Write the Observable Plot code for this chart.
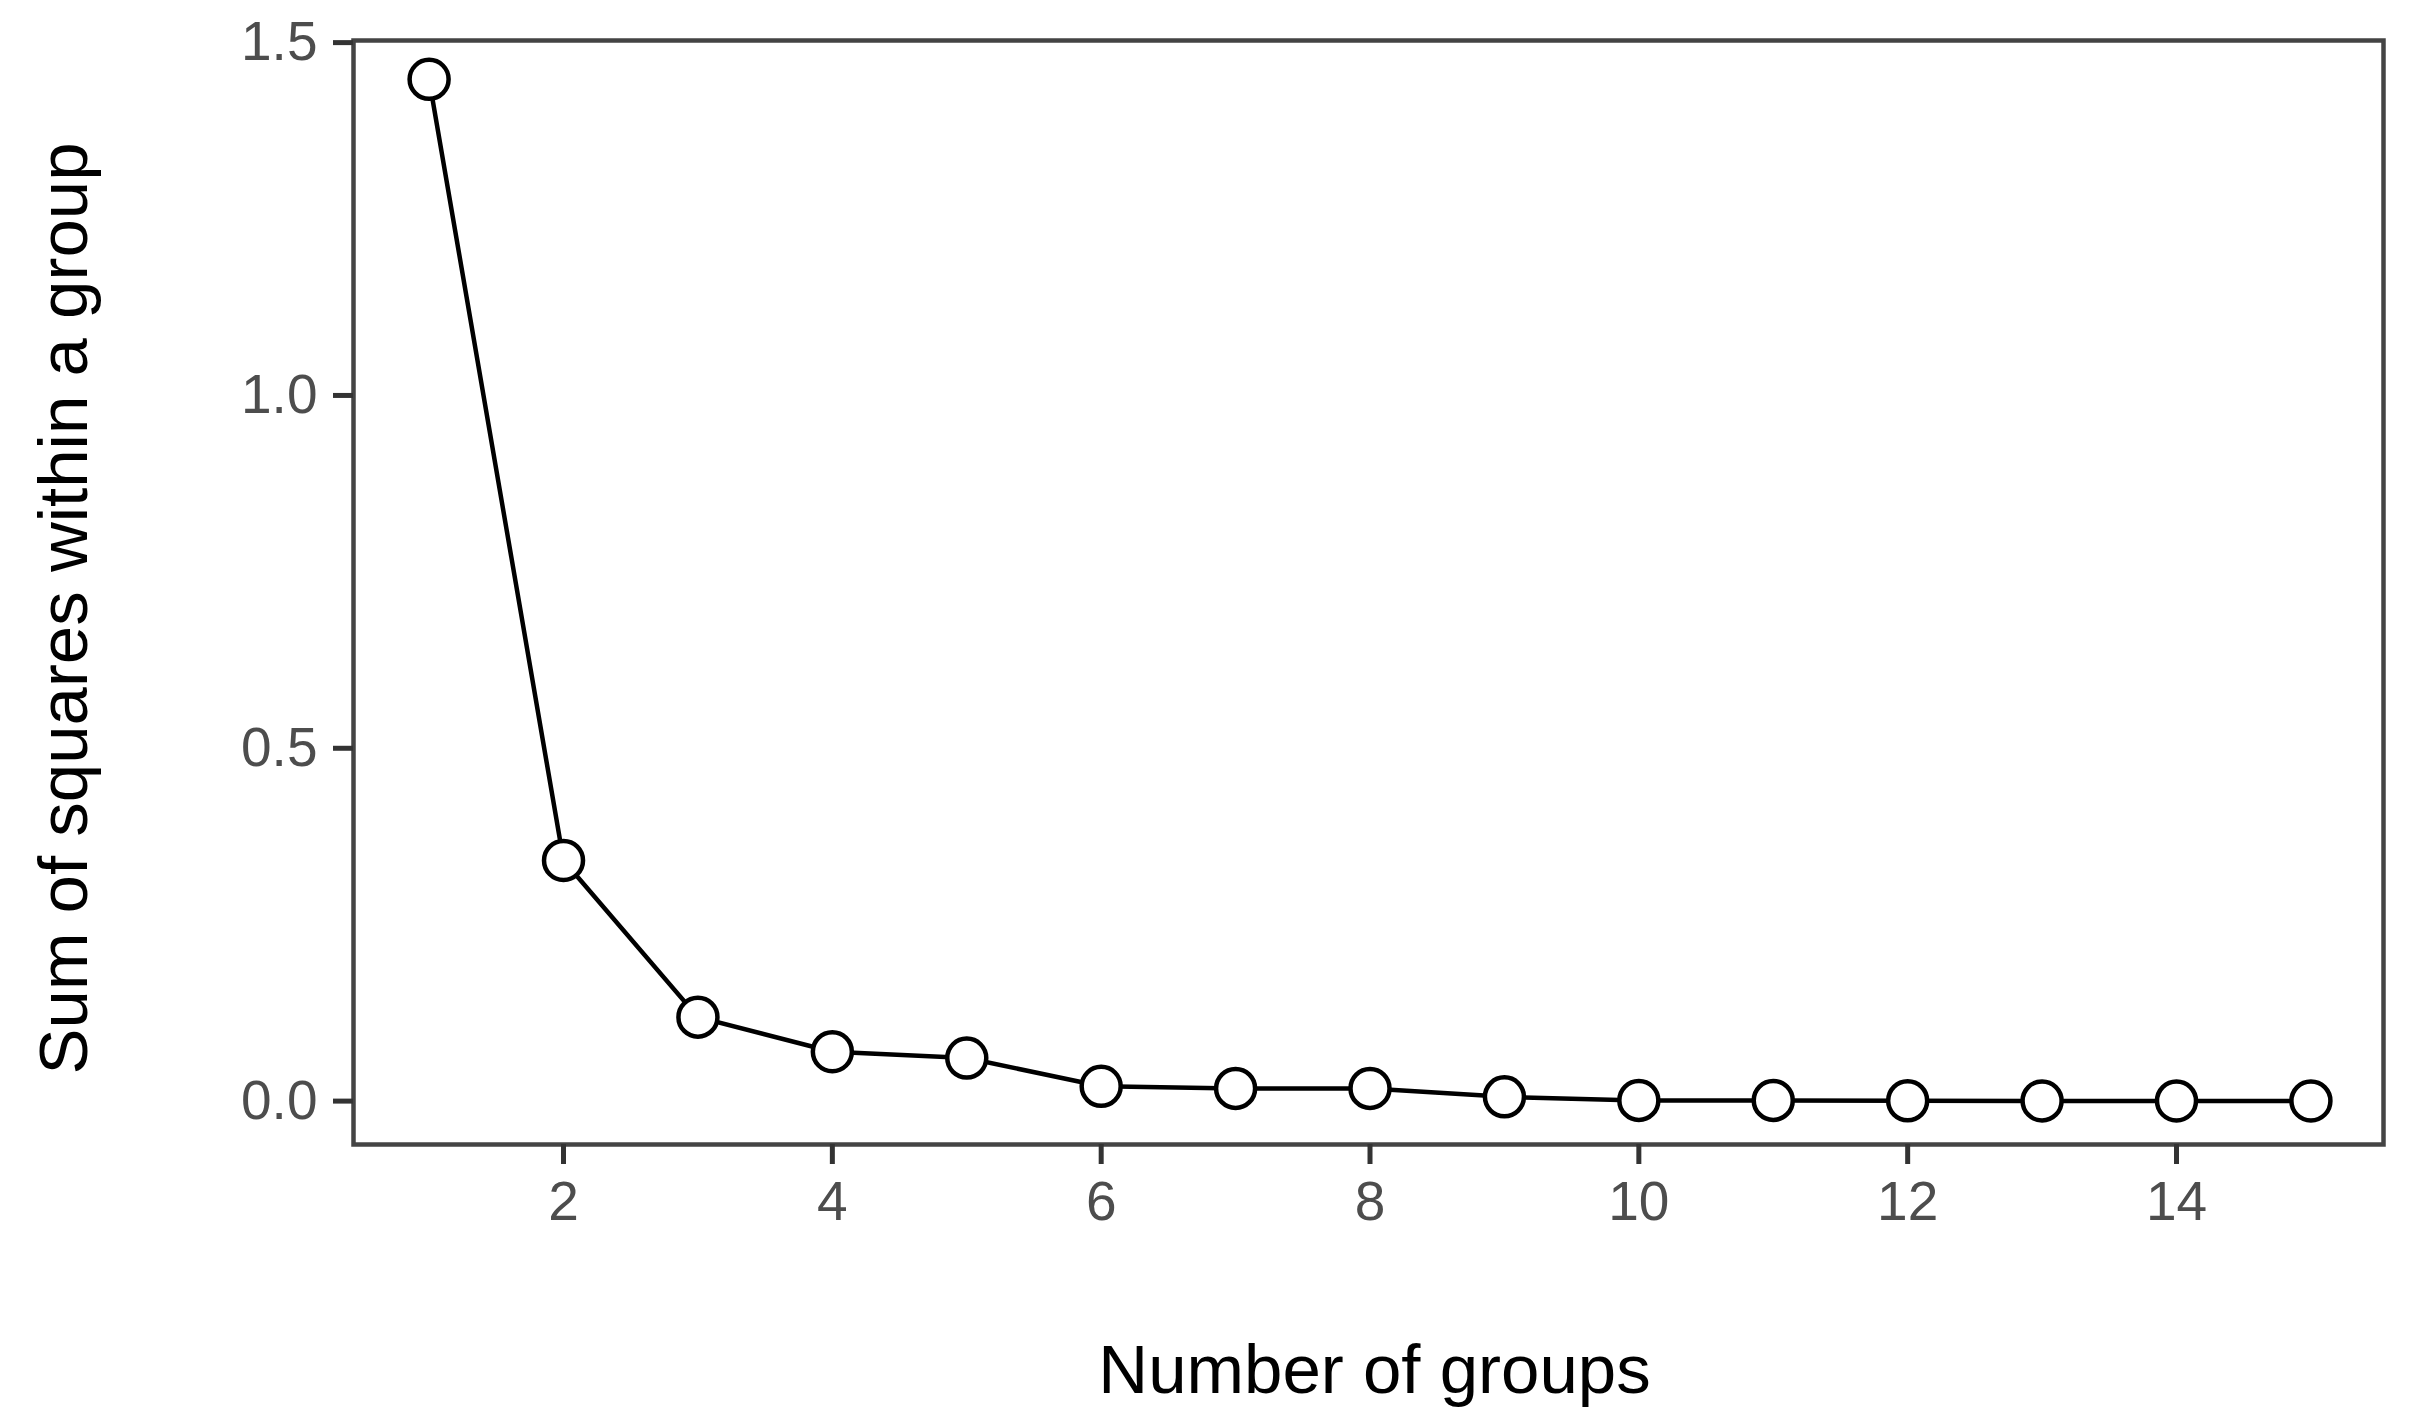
<!DOCTYPE html>
<html>
<head>
<meta charset="utf-8">
<script src="https://cdn.jsdelivr.net/npm/d3@7"></script>
<script src="https://cdn.jsdelivr.net/npm/@observablehq/plot@0.6"></script>
<style>
  html, body { margin: 0; padding: 0; background: #ffffff; }
  #chart svg { display: block; }
</style>
</head>
<body>
<div id="chart"></div>
<script>
const groups = [1, 2, 3, 4, 5, 6, 7, 8, 9, 10, 11, 12, 13, 14, 15];
const sumSquares = [1.448, 0.341, 0.119, 0.070, 0.061, 0.021, 0.018, 0.018, 0.006, 0.001, 0.001, 0.0005, 0.0003, 0.0002, 0.0002];
const xTicks = [2, 4, 6, 8, 10, 12, 14];
const yTicks = [0, 0.5, 1.0, 1.5];
const xTitle = "Number of groups";
const yTitle = "Sum of squares within a group";

const data = groups.map((g, i) => ({groups: g, ss: sumSquares[i]}));

const font = "'Liberation Sans', Arial, Helvetica, sans-serif";

const chart = Plot.plot({
  width: 2419,
  height: 1417,
  marginLeft: 353,
  marginRight: 36,
  marginTop: 40,
  marginBottom: 273,
  style: {background: "#ffffff", fontFamily: font},
  x: {domain: [0.4375, 15.54], ticks: xTicks, label: null},
  y: {domain: [-0.0615, 1.503], ticks: yTicks, label: null},
  marks: [
    Plot.frame({stroke: "#444444", strokeWidth: 4.5}),
    Plot.axisX({
      ticks: xTicks, tickSize: 20, tickPadding: 16, tickFormat: d3.format("d"),
      stroke: "#333333", strokeWidth: 5, fill: "#4d4d4d", fontSize: 55, label: null
    }),
    Plot.axisY({
      ticks: yTicks, tickSize: 20, tickPadding: 16, tickFormat: d3.format(".1f"),
      stroke: "#333333", strokeWidth: 5, fill: "#4d4d4d", fontSize: 55, label: null
    }),
    Plot.line(data, {x: "groups", y: "ss", stroke: "#000000", strokeWidth: 4.5}),
    Plot.dot(data, {x: "groups", y: "ss", r: 19.5, fill: "#ffffff", stroke: "#000000", strokeWidth: 4.5}),
    Plot.text([xTitle], {
      frameAnchor: "bottom", dx: 6, dy: 248, lineAnchor: "bottom", textAnchor: "middle",
      fontSize: 69, fill: "#000000", text: d => d
    }),
    Plot.text([yTitle], {
      frameAnchor: "left", dx: -267, dy: 16, lineAnchor: "bottom", textAnchor: "middle", rotate: -90,
      fontSize: 69, fill: "#000000", text: d => d
    })
  ]
});

document.getElementById("chart").appendChild(chart);
</script>
</body>
</html>
